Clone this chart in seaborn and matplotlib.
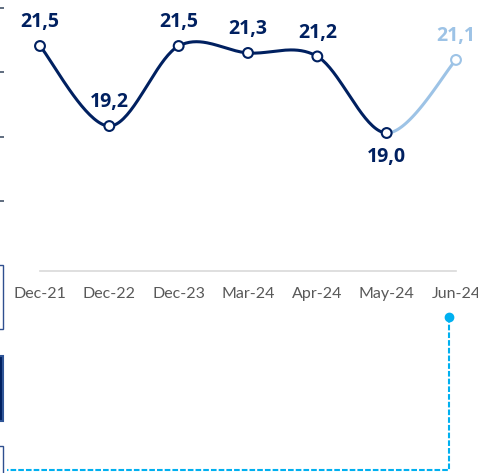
import numpy as np
import pandas as pd
import matplotlib.pyplot as plt
import seaborn as sns
from matplotlib.patches import Rectangle
from matplotlib.lines import Line2D

# Datos del gráfico
meses = ['Dec-21', 'Dec-22', 'Dec-23', 'Mar-24', 'Apr-24', 'May-24', 'Jun-24']
valores = [21.5, 19.2, 21.5, 21.3, 21.2, 19.0, 21.1]
etiquetas = ['21,5', '19,2', '21,5', '21,3', '21,2', '19,0', '21,1']
arriba = [True, True, True, True, True, False, True]

azul_osc = '#002060'
azul_cla = '#9DC3E6'
cian = '#00B0F0'
gris = '#595959'

sns.set_style('white')
plt.rcParams['font.family'] = ['Lato', 'DejaVu Sans']

W, H = 478, 473
fig = plt.figure(figsize=(W / 100, H / 100), dpi=100)
fig.patch.set_facecolor('white')


def px(x, y):
    # pixeles -> fraccion de figura
    return x / W, 1 - y / H


# Ejes: linea base en y=271 px, puntos entre x=40 y x=456 px
ax = fig.add_axes([0, (H - 271) / H, 1, 271 / H])
paso = (456 - 40) / (len(meses) - 1)
ax.set_xlim(-40 / paso, (W - 40) / paso)
escala = 34.8  # px por unidad
ax.set_ylim(21.5 - (271 - 46) / escala, 21.5 + 46 / escala)


# Curva suavizada (Catmull-Rom, como la linea suavizada de Excel)
def suavizar(xs, ys, n=40):
    p = np.column_stack([xs, ys]).astype(float)
    p = np.vstack([p[0], p, p[-1]])
    tramos = []
    for i in range(1, len(p) - 2):
        p0, p1, p2, p3 = p[i - 1], p[i], p[i + 1], p[i + 2]
        t = np.linspace(0, 1, n)[:, None]
        c = 0.5 * ((2 * p1) + (-p0 + p2) * t + (2 * p0 - 5 * p1 + 4 * p2 - p3) * t ** 2
                   + (-p0 + 3 * p1 - 3 * p2 + p3) * t ** 3)
        tramos.append(c)
    return tramos


xs = np.arange(len(meses))
tramos = suavizar(xs, valores)
curva_osc = pd.DataFrame(np.vstack(tramos[:-1]), columns=['x', 'y'])
curva_cla = pd.DataFrame(tramos[-1], columns=['x', 'y'])

sns.lineplot(data=curva_osc, x='x', y='y', sort=False, color=azul_osc, linewidth=2.2, ax=ax)
sns.lineplot(data=curva_cla, x='x', y='y', sort=False, color=azul_cla, linewidth=2.2, ax=ax)

df = pd.DataFrame({'x': xs, 'y': valores})
colores_borde = [azul_osc] * (len(meses) - 1) + [azul_cla]
ax.scatter(df['x'], df['y'], s=50, facecolor='white', edgecolor=colores_borde,
           linewidth=1.5, zorder=5)

for x, y, t, a, c in zip(xs, valores, etiquetas, arriba, colores_borde):
    ax.annotate(t, (x, y), xytext=(0, 17 if a else -17), textcoords='offset points',
                ha='center', va='center', fontsize=14, fontweight='bold', color=c,
                family=['Open Sans', 'DejaVu Sans'])

# Ejes
ax.set_xticks(xs)
ax.set_xticklabels(meses, fontsize=11.5, color=gris)
for s in ['top', 'right', 'left']:
    ax.spines[s].set_visible(False)
ax.spines['bottom'].set_bounds(0, len(meses) - 1)
ax.spines['bottom'].set_color('#D9D9D9')
ax.spines['bottom'].set_linewidth(1.2)
ax.tick_params(axis='x', direction='out', length=3.5, width=1.2, color='#D9D9D9', pad=8)

# marcas del eje izquierdo
ax.set_yticks([21.5 - (p - 46) / escala for p in [8, 72, 137, 201]])
ax.set_yticklabels([])
ax.tick_params(axis='y', direction='in', length=3, width=1.2, color='#44546A', left=True, pad=0)
ax.set_xlabel('')
ax.set_ylabel('')

# Conector punteado (cian)
xv, yv = px(449, 317)
xb, yb = px(449, 470)
xl, _ = px(7, 470)
fig.add_artist(Line2D([xv, xb, xl], [yv, yb, yb], transform=fig.transFigure,
                      color=cian, linewidth=1.5, linestyle=(0, (2.7, 1))))
fig.add_artist(Line2D([xv], [yv], transform=fig.transFigure, marker='o',
                      markersize=6, color=cian, linestyle='none'))

# Recuadros recortados en el borde izquierdo
for (y0, y1, fc, ec, lw) in [(265, 329, 'white', '#2F4F8F', 1.0),
                             (356, 421, azul_osc, '#2F5597', 1.5),
                             (446, 480, 'white', '#2F4F8F', 1.0)]:
    x0f, y1f = px(-2, y1)
    x1f, y0f = px(3.5, y0)
    fig.add_artist(Rectangle((x0f, y1f), x1f - x0f, y0f - y1f, transform=fig.transFigure,
                             facecolor=fc, edgecolor=ec, linewidth=lw))

plt.savefig('out.png', dpi=100, facecolor='white')
